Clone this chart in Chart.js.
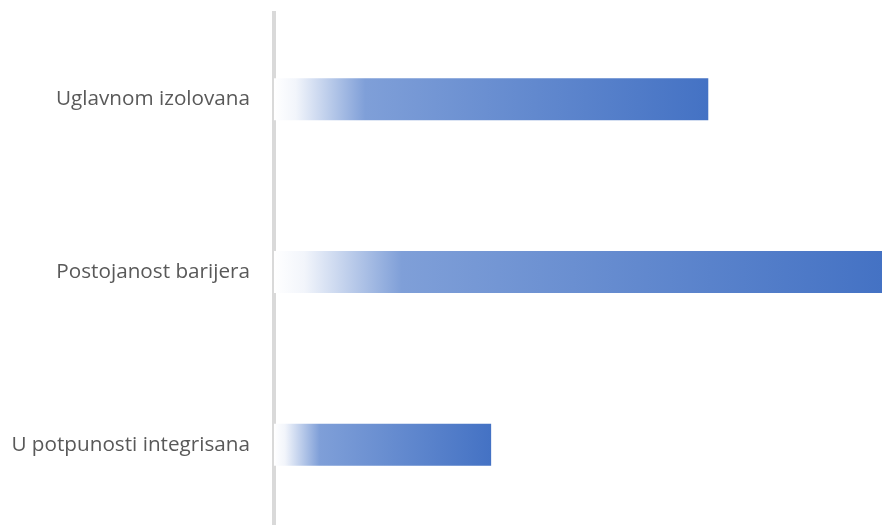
<!DOCTYPE html>
<html>
<head>
<meta charset="utf-8">
<script src="https://cdn.jsdelivr.net/npm/chart.js@4"></script>
<style>
  html, body { margin: 0; padding: 0; background: #fff; overflow: hidden; }
  canvas { display: block; }
</style>
</head>
<body>
<canvas id="chart" width="882" height="531"></canvas>
<script>
const categories = ['Uglavnom izolovana', 'Postojanost barijera', 'U potpunosti integrisana'];
const values = [40, 56, 20];
const axisMax = 56;

// white -> light blue over the first fifth of each bar, then into the dark blue
function barGradient(context) {
  const chart = context.chart;
  if (!chart.chartArea || !chart.scales.x) {
    return '#4472C4';
  }
  const x = chart.scales.x;
  const x0 = x.getPixelForValue(0);
  const x1 = x.getPixelForValue(context.raw);
  const g = chart.ctx.createLinearGradient(x0, 0, x1, 0);
  g.addColorStop(0, '#FFFFFF');
  g.addColorStop(0.05, '#F2F5FB');
  g.addColorStop(0.21, '#7F9FD8');
  g.addColorStop(1, '#4472C4');
  return g;
}

const ctx = document.getElementById('chart').getContext('2d');
new Chart(ctx, {
  type: 'bar',
  data: {
    labels: categories,
    datasets: [{
      data: values,
      backgroundColor: barGradient,
      borderWidth: 0,
      barPercentage: 42 / 172.5,
      categoryPercentage: 1
    }]
  },
  options: {
    indexAxis: 'y',
    responsive: false,
    animation: false,
    layout: { padding: { top: 13, right: 0, bottom: 0, left: 0 } },
    plugins: {
      legend: { display: false },
      tooltip: { enabled: false },
      title: { display: false }
    },
    scales: {
      x: {
        display: false,
        min: 0,
        max: axisMax
      },
      y: {
        z: 1,
        grid: { display: false, drawTicks: false },
        border: { display: true, color: '#D9D9D9', width: 4 },
        ticks: {
          color: '#595959',
          padding: 24,
          font: { family: 'Open Sans', size: 20.7 }
        },
        afterFit(scale) {
          scale.width = 274;
          // tick padding would otherwise push the plot down from the top
          scale.paddingTop = 0;
          scale.paddingBottom = 0;
        }
      }
    }
  }
});
</script>
</body>
</html>
